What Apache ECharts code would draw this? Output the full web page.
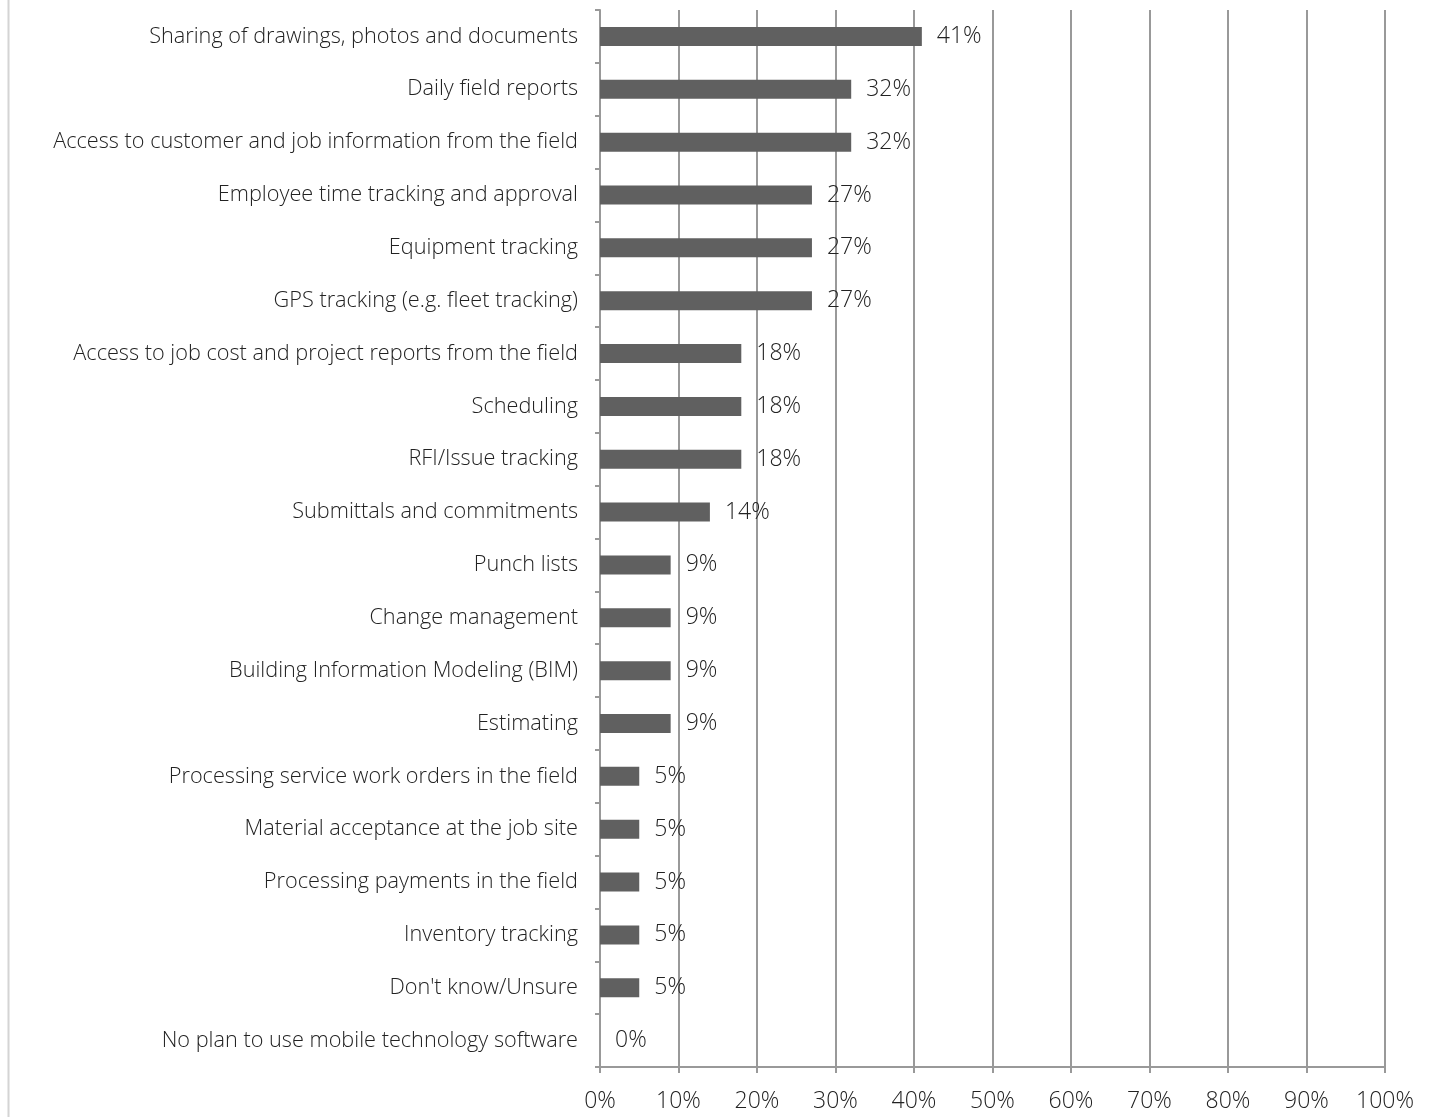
<!DOCTYPE html>
<html>
<head>
<meta charset="utf-8">
<script src="https://cdn.jsdelivr.net/npm/echarts@6/dist/echarts.min.js"></script>
<style>
  html, body { margin: 0; padding: 0; background: #fff; }
  #chart { width: 1433px; height: 1117px; }
</style>
</head>
<body>
<div id="chart"></div>
<script>
// Mobile technology uses, share of respondents (%)
const categories = [
  'Sharing of drawings, photos and documents',
  'Daily field reports',
  'Access to customer and job information from the field',
  'Employee time tracking and approval',
  'Equipment tracking',
  'GPS tracking (e.g. fleet tracking)',
  'Access to job cost and project reports from the field',
  'Scheduling',
  'RFI/Issue tracking',
  'Submittals and commitments',
  'Punch lists',
  'Change management',
  'Building Information Modeling (BIM)',
  'Estimating',
  'Processing service work orders in the field',
  'Material acceptance at the job site',
  'Processing payments in the field',
  'Inventory tracking',
  "Don't know/Unsure",
  'No plan to use mobile technology software'
];
const values = [41, 32, 32, 27, 27, 27, 18, 18, 18, 14, 9, 9, 9, 9, 5, 5, 5, 5, 5, 0];
const xTicks = [0, 10, 20, 30, 40, 50, 60, 70, 80, 90, 100];

const FONT = '"Open Sans", "Noto Sans", sans-serif';
const chart = echarts.init(document.getElementById('chart'), null, { renderer: 'canvas' });

chart.setOption({
  backgroundColor: '#ffffff',
  animation: false,
  grid: { left: 600, right: 48, top: 10, bottom: 50, containLabel: false },
  xAxis: {
    type: 'value',
    min: xTicks[0],
    max: xTicks[xTicks.length - 1],
    interval: 10,
    axisLine: { show: true, lineStyle: { color: '#999', width: 2 } },
    axisTick: { show: true, length: 6, lineStyle: { color: '#999', width: 2 } },
    splitLine: { show: true, lineStyle: { color: '#999', width: 2 } },
    axisLabel: {
      formatter: v => v + '%',
      color: '#222', fontFamily: FONT, fontWeight: 300, fontSize: 23, margin: 23
    }
  },
  yAxis: {
    type: 'category',
    inverse: true,
    data: categories,
    axisLine: { show: true, lineStyle: { color: '#999', width: 2 } },
    axisTick: { show: true, length: 5, lineStyle: { color: '#999', width: 2 } },
    axisLabel: { color: '#222', fontFamily: FONT, fontWeight: 300, fontSize: 21.7, margin: 22 },
    splitLine: { show: false }
  },
  series: [{
    type: 'bar',
    data: values,
    barWidth: 19,
    itemStyle: { color: '#606060' },
    label: {
      show: true,
      position: 'right',
      distance: 15,
      formatter: p => p.value + '%',
      color: '#222', fontFamily: FONT, fontWeight: 300, fontSize: 23
    }
  }],
  graphic: [{
    type: 'line',
    shape: { x1: 8.5, y1: 0, x2: 8.5, y2: 1117 },
    style: { stroke: '#d4d4d4', lineWidth: 2 },
    silent: true
  }]
});
</script>
</body>
</html>
